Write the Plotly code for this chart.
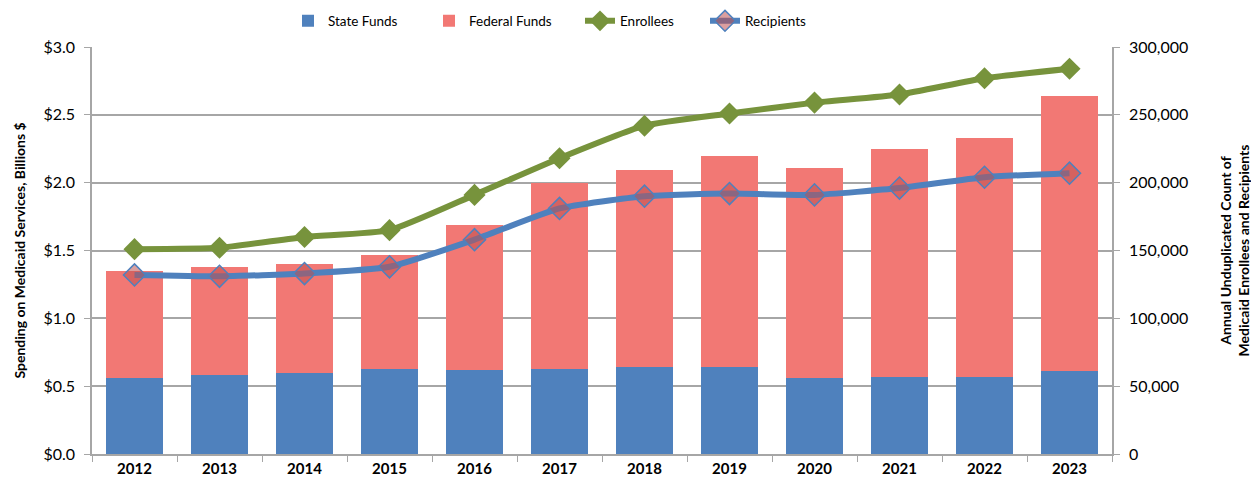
import plotly.graph_objects as go

years = ["2012", "2013", "2014", "2015", "2016", "2017", "2018", "2019", "2020", "2021", "2022", "2023"]
state_funds = [0.56, 0.58, 0.60, 0.63, 0.62, 0.63, 0.64, 0.64, 0.56, 0.57, 0.57, 0.61]
total_funds = [1.35, 1.38, 1.40, 1.47, 1.69, 2.00, 2.09, 2.20, 2.11, 2.25, 2.33, 2.64]
federal_funds = [round(t - s, 2) for t, s in zip(total_funds, state_funds)]
enrollees = [151000, 152000, 160000, 165000, 191000, 218000, 242000, 251000, 259000, 265000, 277000, 284000]
recipients = [132000, 131000, 133000, 138000, 158000, 181000, 190000, 192000, 191000, 196000, 204000, 207000]

FONT = "Lato"
BLUE = "#4F81BD"
RED = "#F27874"
GREEN = "#77933C"
GRID = "#A6A6A6"

# the page body has an 8px default margin; compensate so the plot lands where the reference has it
W, H = 1251, 477

fig = go.Figure()
fig.add_trace(go.Bar(x=years, y=state_funds, name="State Funds", legend="legend", showlegend=True,
                     marker=dict(color=BLUE, line=dict(width=0))))
fig.add_trace(go.Bar(x=years, y=federal_funds, name="Federal Funds", legend="legend2", showlegend=True,
                     marker=dict(color=RED, line=dict(width=0))))
fig.add_trace(go.Scatter(x=years, y=enrollees, name="Enrollees", yaxis="y2", mode="lines+markers",
                         legend="legend3", showlegend=True,
                         line=dict(color=GREEN, width=6, shape="spline", smoothing=0.5),
                         marker=dict(symbol="diamond", size=17, color=GREEN)))
fig.add_trace(go.Scatter(x=years, y=recipients, name="Recipients", yaxis="y2", mode="lines+markers",
                         legend="legend4", showlegend=True,
                         line=dict(color=BLUE, width=6, shape="spline", smoothing=0.5),
                         marker=dict(symbol="diamond", size=17, color="rgba(190,80,80,0.55)",
                                     line=dict(color=BLUE, width=1.5))))


def leg(text_left_page):
    return dict(orientation="h", x=(text_left_page - 41 - 8) / W, xanchor="left", xref="container",
                y=1 - 13 / H, yanchor="middle", yref="container", bgcolor="rgba(0,0,0,0)",
                font=dict(size=13.5), itemwidth=30)


fig.update_layout(
    width=W, height=H, showlegend=True,
    barmode="stack", bargap=0.33,
    plot_bgcolor="white", paper_bgcolor="white",
    margin=dict(l=84, r=147, t=39, b=31),
    font=dict(family=FONT, size=15, color="#000000"),
    legend=leg(329), legend2=leg(470), legend3=leg(621), legend4=leg(746),
    xaxis=dict(range=[-0.5, 11.5], showline=True, linecolor=GRID, linewidth=1.5, ticks="outside",
               tickson="boundaries", ticklen=6, tickcolor=GRID,
               tickfont=dict(size=15, family=FONT, weight="bold"),
               showgrid=False, mirror=False, automargin=False),
    yaxis=dict(range=[0, 3.0], dtick=0.5, tickformat="$.1f", showgrid=True, gridcolor=GRID, gridwidth=1.5,
               showline=True, linecolor=GRID, linewidth=1.5, ticks="outside", ticklen=6, tickcolor=GRID,
               zeroline=False, automargin=False, tickfont=dict(size=16), ticklabelstandoff=6,
               title=dict(text="Spending on Medicaid Services, Billions $", font=dict(size=14, weight="bold"), standoff=15)),
    yaxis2=dict(range=[0, 300000], dtick=50000, tickformat=",d", overlaying="y", side="right", showgrid=False,
                showline=True, linecolor=GRID, linewidth=1.5, ticks="outside", ticklen=6, tickcolor=GRID,
                zeroline=False, automargin=False, tickfont=dict(size=16), ticklabelstandoff=6,
                title=dict(text="Annual Unduplicated Count of<br>Medicaid Enrollees and Recipients",
                           font=dict(size=14, weight="bold"), standoff=34)),
)

fig.write_html("out.html")
